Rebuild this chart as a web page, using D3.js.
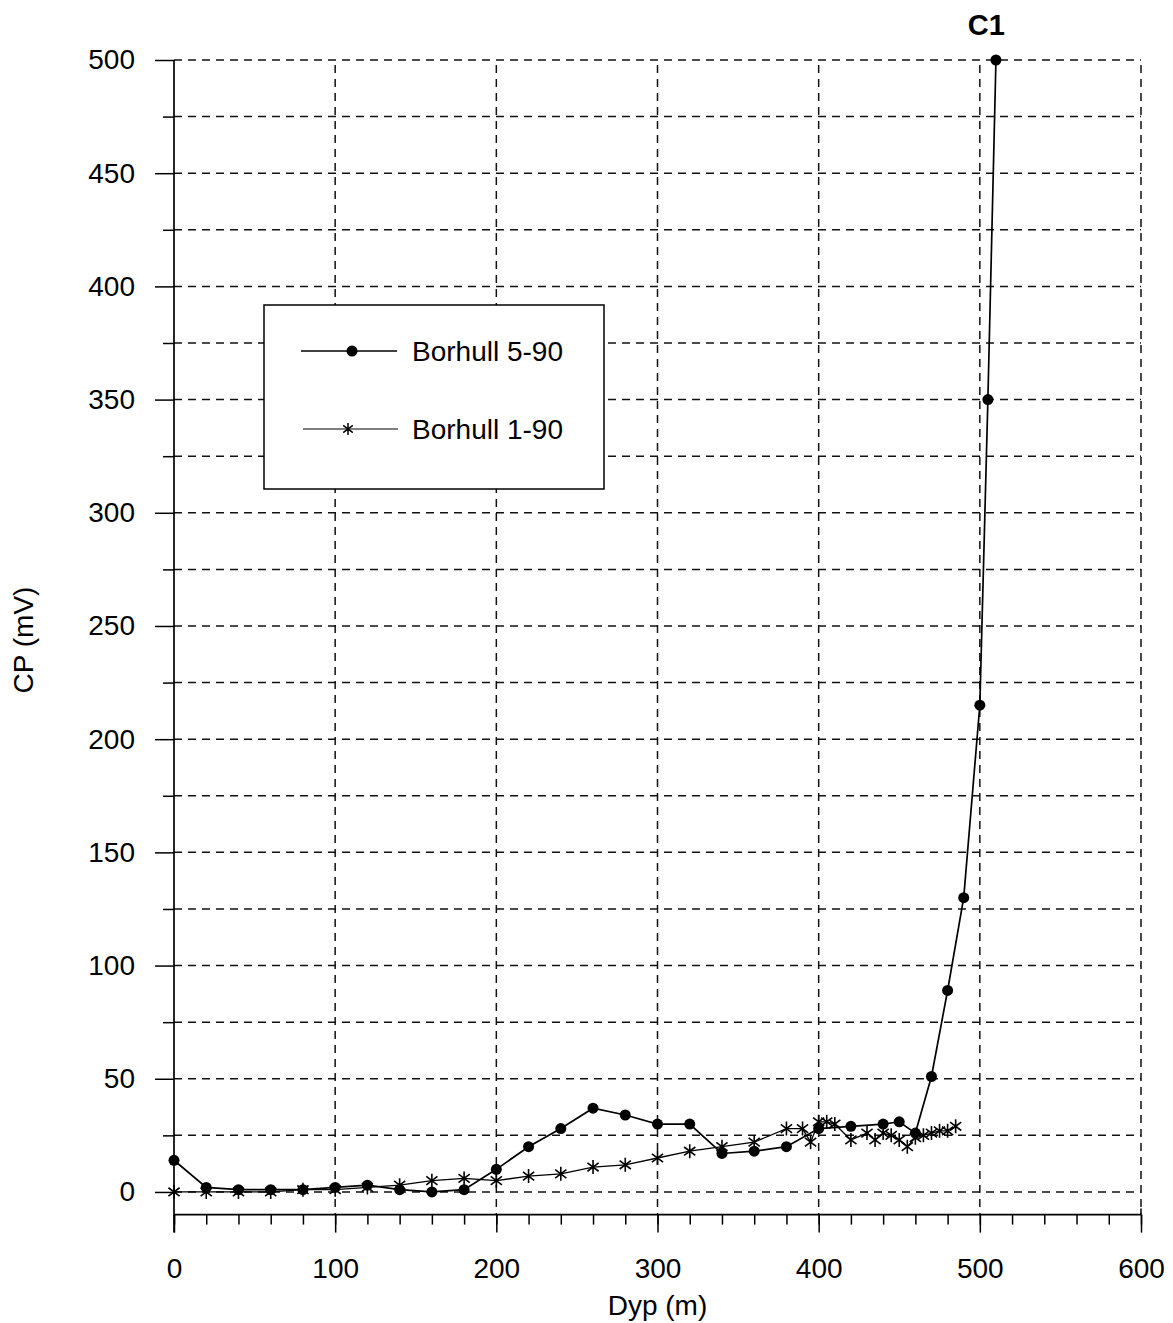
<!DOCTYPE html>
<html>
<head>
<meta charset="utf-8">
<script src="https://cdn.jsdelivr.net/npm/d3@7"></script>
<style>
  html, body { margin: 0; padding: 0; background: #fff; }
  svg { display: block; font-family: "Liberation Sans", Arial, sans-serif; }
</style>
</head>
<body>
<svg id="chart" width="1173" height="1323"></svg>
<script>
// Borhull 5-90: depth (m) and CP (mV)
const depth590 = [0, 20, 40, 60, 80, 100, 120, 140, 160, 180, 200, 220, 240, 260, 280, 300, 320, 340, 360, 380, 400, 420, 440, 450, 460, 470, 480, 490, 500, 505, 510];
const cp590    = [14, 2, 1, 1, 1, 2, 3, 1, 0, 1, 10, 20, 28, 37, 34, 30, 30, 17, 18, 20, 28, 29, 30, 31, 26, 51, 89, 130, 215, 350, 500];

// Borhull 1-90: depth (m) and CP (mV)
const depth190 = [0, 20, 40, 60, 80, 100, 120, 140, 160, 180, 200, 220, 240, 260, 280, 300, 320, 340, 360, 380, 390, 395, 400, 405, 410, 420, 430, 435, 440, 445, 450, 455, 460, 465, 470, 475, 480, 485];
const cp190    = [0, 0, 0, 0, 1, 1, 2, 3, 5, 6, 5, 7, 8, 11, 12, 15, 18, 20, 22, 28, 28, 22, 31, 31, 30, 23, 26, 23, 26, 25, 23, 20, 24, 25, 26, 27, 27, 29];

const seriesNames = ["Borhull 5-90", "Borhull 1-90"];
const xMajorTicks = [0, 100, 200, 300, 400, 500, 600];
const xMinorTicks = d3.range(0, 601, 20);
const yMajorTicks = [0, 50, 100, 150, 200, 250, 300, 350, 400, 450, 500];
const yMinorTicks = d3.range(25, 500, 50);
const xTitle = "Dyp (m)";
const yTitle = "CP (mV)";
const peakLabel = "C1";

const svg = d3.select("#chart");
const plotLeft = 174, plotRight = 1141, plotTop = 60, plotBottom = 1214.6;

const x = d3.scaleLinear().domain([0, 600]).range([plotLeft, plotRight]);
const y = d3.scaleLinear().domain([-10, 500]).range([plotBottom, plotTop]);

const fontSize = 28;

// dashed grid
const grid = svg.append("g").attr("stroke", "#111").attr("stroke-dasharray", "8,6").attr("fill", "none");
grid.selectAll("line.h").data(d3.range(0, 501, 25)).join("line").attr("class", "h")
  .attr("x1", plotLeft).attr("x2", plotRight)
  .attr("y1", d => y(d)).attr("y2", d => y(d))
  .attr("stroke-width", 1.5);
grid.selectAll("line.v").data(xMajorTicks.slice(1)).join("line").attr("class", "v")
  .attr("x1", d => x(d)).attr("x2", d => x(d))
  .attr("y1", y(500) + 5).attr("y2", plotBottom)
  .attr("stroke-width", 1.5);

// y axis: major and minor ticks
const yAxisMajor = svg.append("g").attr("transform", `translate(${plotLeft},0)`)
  .call(d3.axisLeft(y).tickValues(yMajorTicks).tickSize(19).tickPadding(20).tickSizeOuter(0));
const yAxisMinor = svg.append("g").attr("transform", `translate(${plotLeft},0)`)
  .call(d3.axisLeft(y).tickValues(yMinorTicks).tickSize(11).tickFormat("").tickSizeOuter(0));

// x axis: major and minor ticks
const xAxisMajor = svg.append("g").attr("transform", `translate(0,${plotBottom})`)
  .call(d3.axisBottom(x).tickValues(xMajorTicks).tickSize(18).tickPadding(26).tickSizeOuter(0));
const xAxisMinor = svg.append("g").attr("transform", `translate(0,${plotBottom})`)
  .call(d3.axisBottom(x).tickValues(xMinorTicks).tickSize(10).tickFormat("").tickSizeOuter(0));

[yAxisMajor, yAxisMinor, xAxisMajor, xAxisMinor].forEach(g => {
  g.selectAll(".domain").remove();
  g.selectAll("line").attr("stroke", "#000").attr("stroke-width", 1.5);
  g.selectAll("text").attr("font-size", fontSize).attr("fill", "#000")
    .attr("font-family", "'Liberation Sans', Arial, sans-serif");
});

// axis lines
svg.append("line").attr("x1", plotLeft).attr("x2", plotLeft)
  .attr("y1", y(500)).attr("y2", plotBottom + 18)
  .attr("stroke", "#000").attr("stroke-width", 1.7);
svg.append("line").attr("x1", plotLeft).attr("x2", plotRight)
  .attr("y1", plotBottom).attr("y2", plotBottom)
  .attr("stroke", "#000").attr("stroke-width", 1.7);
svg.append("line").attr("x1", plotRight).attr("x2", plotRight)
  .attr("y1", plotBottom - 6).attr("y2", plotBottom)
  .attr("stroke", "#000").attr("stroke-width", 1.5);

// axis titles
svg.append("text").attr("x", x(300)).attr("y", 1305).attr("dy", "0.35em")
  .attr("text-anchor", "middle").attr("font-size", fontSize).text(xTitle);
svg.append("text").attr("transform", `translate(23,${640}) rotate(-90)`)
  .attr("dy", "0.35em").attr("text-anchor", "middle").attr("font-size", fontSize).text(yTitle);

// series
const data590 = depth590.map((d, i) => [d, cp590[i]]);
const data190 = depth190.map((d, i) => [d, cp190[i]]);
const line = d3.line().x(d => x(d[0])).y(d => y(d[1]));

const starPath = r => {
  const a = r * 0.8, b = r * 0.6;
  return `M0,${-r}L0,${r}M${-a},${-b}L${a},${b}M${-a},${b}L${a},${-b}`;
};

svg.append("path").datum(data190).attr("d", line)
  .attr("fill", "none").attr("stroke", "#000").attr("stroke-width", 1.3);
svg.append("g").selectAll("path").data(data190).join("path")
  .attr("transform", d => `translate(${x(d[0])},${y(d[1])})`)
  .attr("d", starPath(7)).attr("fill", "none").attr("stroke", "#000").attr("stroke-width", 1.6);

svg.append("path").datum(data590).attr("d", line)
  .attr("fill", "none").attr("stroke", "#000").attr("stroke-width", 1.7);
svg.append("g").selectAll("circle").data(data590).join("circle")
  .attr("cx", d => x(d[0])).attr("cy", d => y(d[1])).attr("r", 5.5).attr("fill", "#000");

// peak annotation
svg.append("text").attr("x", x(504)).attr("y", y(500) - 35).attr("dy", "0.35em")
  .attr("text-anchor", "middle").attr("font-size", 29).attr("font-weight", "bold").text(peakLabel);

// legend
const legend = svg.append("g");
legend.append("rect").attr("x", 264).attr("y", 305).attr("width", 340).attr("height", 184)
  .attr("fill", "#fff").attr("stroke", "#000").attr("stroke-width", 1.5);
const rows = [
  { name: seriesNames[0], y: 351, x1: 301, x2: 397, mx: 352, kind: "dot", w: 1.7 },
  { name: seriesNames[1], y: 429, x1: 303, x2: 398, mx: 348, kind: "star", w: 1.2 }
];
rows.forEach(r => {
  legend.append("line").attr("x1", r.x1).attr("x2", r.x2).attr("y1", r.y).attr("y2", r.y)
    .attr("stroke", "#000").attr("stroke-width", r.w);
  if (r.kind === "dot") {
    legend.append("circle").attr("cx", r.mx).attr("cy", r.y).attr("r", 5.5).attr("fill", "#000");
  } else {
    legend.append("path").attr("transform", `translate(${r.mx},${r.y})`).attr("d", starPath(6))
      .attr("fill", "none").attr("stroke", "#000").attr("stroke-width", 1.5);
  }
  legend.append("text").attr("x", 412).attr("y", r.y).attr("dy", "0.35em")
    .attr("font-size", fontSize).text(r.name);
});
</script>
</body>
</html>
